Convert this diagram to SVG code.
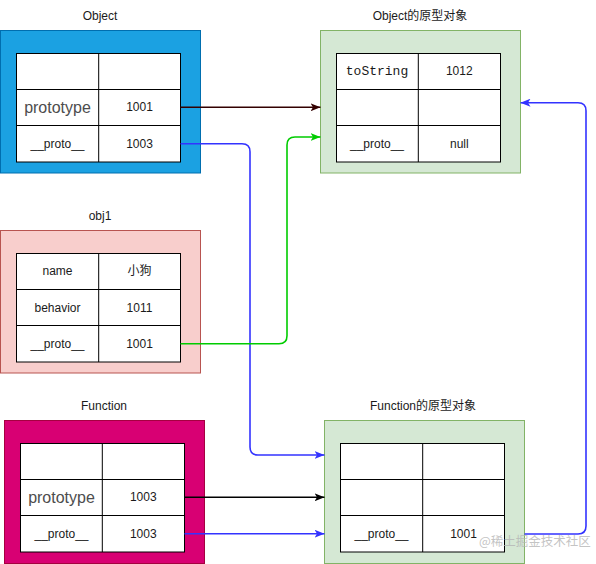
<svg xmlns="http://www.w3.org/2000/svg" width="596" height="564" viewBox="0 0 596 564">
<defs>
<style>
.lbl{font-family:"Liberation Sans","Noto Sans CJK SC",sans-serif;font-size:12px;fill:#1a1a1a;text-anchor:middle;dominant-baseline:central}
.t{font-family:"Liberation Sans","Noto Sans CJK SC",sans-serif;font-size:12px;fill:#1a1a1a;text-anchor:middle;dominant-baseline:central}
.big{font-size:16px;fill:#4d4d4d}
.mono{font-family:"Liberation Mono","DejaVu Sans Mono",monospace;font-size:13px}
.cell{fill:#ffffff;stroke:#000000;stroke-width:1}
.div{stroke:#000000;stroke-width:1;fill:none}
.edge{fill:none;stroke-width:1.6}
</style>
<marker id="aBlue" viewBox="0 0 10 8" refX="10" refY="4" markerWidth="10" markerHeight="8" markerUnits="userSpaceOnUse" orient="auto"><path d="M0,0 L10,4 L0,8 L2.5,4 Z" fill="#3333FF"/></marker>
<marker id="aBlack" viewBox="0 0 10 8" refX="10" refY="4" markerWidth="10" markerHeight="8" markerUnits="userSpaceOnUse" orient="auto"><path d="M0,0 L10,4 L0,8 L2.5,4 Z" fill="#000000"/></marker>
<marker id="aRed" viewBox="0 0 10 8" refX="10" refY="4" markerWidth="10" markerHeight="8" markerUnits="userSpaceOnUse" orient="auto"><path d="M0,0 L10,4 L0,8 L2.5,4 Z" fill="#330000"/></marker>
<marker id="aGreen" viewBox="0 0 10 8" refX="10" refY="4" markerWidth="10" markerHeight="8" markerUnits="userSpaceOnUse" orient="auto"><path d="M0,0 L10,4 L0,8 L2.5,4 Z" fill="#00CC00"/></marker>
</defs>
<rect width="596" height="564" fill="#ffffff"/>

<g id="object">
<text class="lbl" x="100" y="16">Object</text>
<rect x="0.5" y="30.5" width="200" height="142.5" fill="#1BA1E2" stroke="#006EAF"/>
<rect class="cell" x="16.5" y="53.5" width="164" height="108.5"/>
<path class="div" d="M98.7,53.5 V162 M16.5,89.5 H180.5 M16.5,125.5 H180.5"/>
<text class="t big" x="57.5" y="107.3">prototype</text>
<text class="t" x="139.5" y="107.3">1001</text>
<text class="t" x="57.5" y="143.7">__proto__</text>
<text class="t" x="139.5" y="143.7">1003</text>
</g>

<g id="object-prototype">
<text class="lbl" x="420" y="16">Object的原型对象</text>
<rect x="320.5" y="30.5" width="200" height="142.5" fill="#D5E8D4" stroke="#82B366"/>
<rect class="cell" x="336.5" y="53.5" width="164" height="108.5"/>
<path class="div" d="M418.3,53.5 V162 M336.5,89.5 H500.5 M336.5,125.5 H500.5"/>
<text class="t mono" x="377" y="71.3">toString</text>
<text class="t" x="459.3" y="71.3">1012</text>
<text class="t" x="377" y="143.8">__proto__</text>
<text class="t" x="459.3" y="143.8">null</text>
</g>

<g id="obj1">
<text class="lbl" x="100" y="215.7">obj1</text>
<rect x="0.5" y="230.5" width="200" height="142.5" fill="#F8CECC" stroke="#B85450"/>
<rect class="cell" x="16.5" y="253.5" width="164" height="108.5"/>
<path class="div" d="M98.7,253.5 V362 M16.5,289.5 H180.5 M16.5,325.5 H180.5"/>
<text class="t" x="57.5" y="271.3">name</text>
<text class="t" x="139.5" y="271.3">小狗</text>
<text class="t" x="57.5" y="307.5">behavior</text>
<text class="t" x="139.5" y="307.5">1011</text>
<text class="t" x="57.5" y="343.8">__proto__</text>
<text class="t" x="139.5" y="343.8">1001</text>
</g>

<g id="function">
<text class="lbl" x="104" y="405.7">Function</text>
<rect x="4.5" y="420.5" width="200" height="143" fill="#D80073" stroke="#A50040"/>
<rect class="cell" x="20.5" y="443.5" width="164" height="108.5"/>
<path class="div" d="M102.3,443.5 V552 M20.5,479.5 H184.5 M20.5,515.5 H184.5"/>
<text class="t big" x="61.5" y="497.3">prototype</text>
<text class="t" x="143.3" y="497.3">1003</text>
<text class="t" x="61.5" y="533.7">__proto__</text>
<text class="t" x="143.3" y="533.7">1003</text>
</g>

<g id="function-prototype">
<text class="lbl" x="423" y="405.7">Function的原型对象</text>
<rect x="324.5" y="420.5" width="200" height="143" fill="#D5E8D4" stroke="#82B366"/>
<rect class="cell" x="340.5" y="443.5" width="164" height="108.5"/>
<path class="div" d="M422.7,443.5 V552 M340.5,479.5 H504.5 M340.5,515.5 H504.5"/>
<text class="t" x="381.5" y="533.7">__proto__</text>
<text class="t" x="463.5" y="533.7">1001</text>
</g>

<g id="connectors">
<path class="edge" stroke="#330000" marker-end="url(#aRed)" d="M180.5,107.3 H320.5"/>
<path class="edge" stroke="#3333FF" marker-end="url(#aBlue)" d="M180.5,143.7 H242 Q250,143.7 250,151.7 V447 Q250,455 258,455 H324.5"/>
<path class="edge" stroke="#00CC00" marker-end="url(#aGreen)" d="M180.5,343.8 H279 Q287,343.8 287,335.8 V145 Q287,137 295,137 H320.5"/>
<path class="edge" stroke="#000000" marker-end="url(#aBlack)" d="M184.5,497.3 H324.5"/>
<path class="edge" stroke="#3333FF" marker-end="url(#aBlue)" d="M184.5,533.7 H324.5"/>
<path class="edge" stroke="#3333FF" marker-end="url(#aBlue)" d="M524.5,534 H578 Q586,534 586,526 V110.7 Q586,102.7 578,102.7 H520.5"/>
</g>

<text x="479" y="546" font-family="'Noto Sans CJK SC',sans-serif" font-size="12.5" fill="#b4b4b4" fill-opacity="0.8">@稀土掘金技术社区</text>
</svg>
